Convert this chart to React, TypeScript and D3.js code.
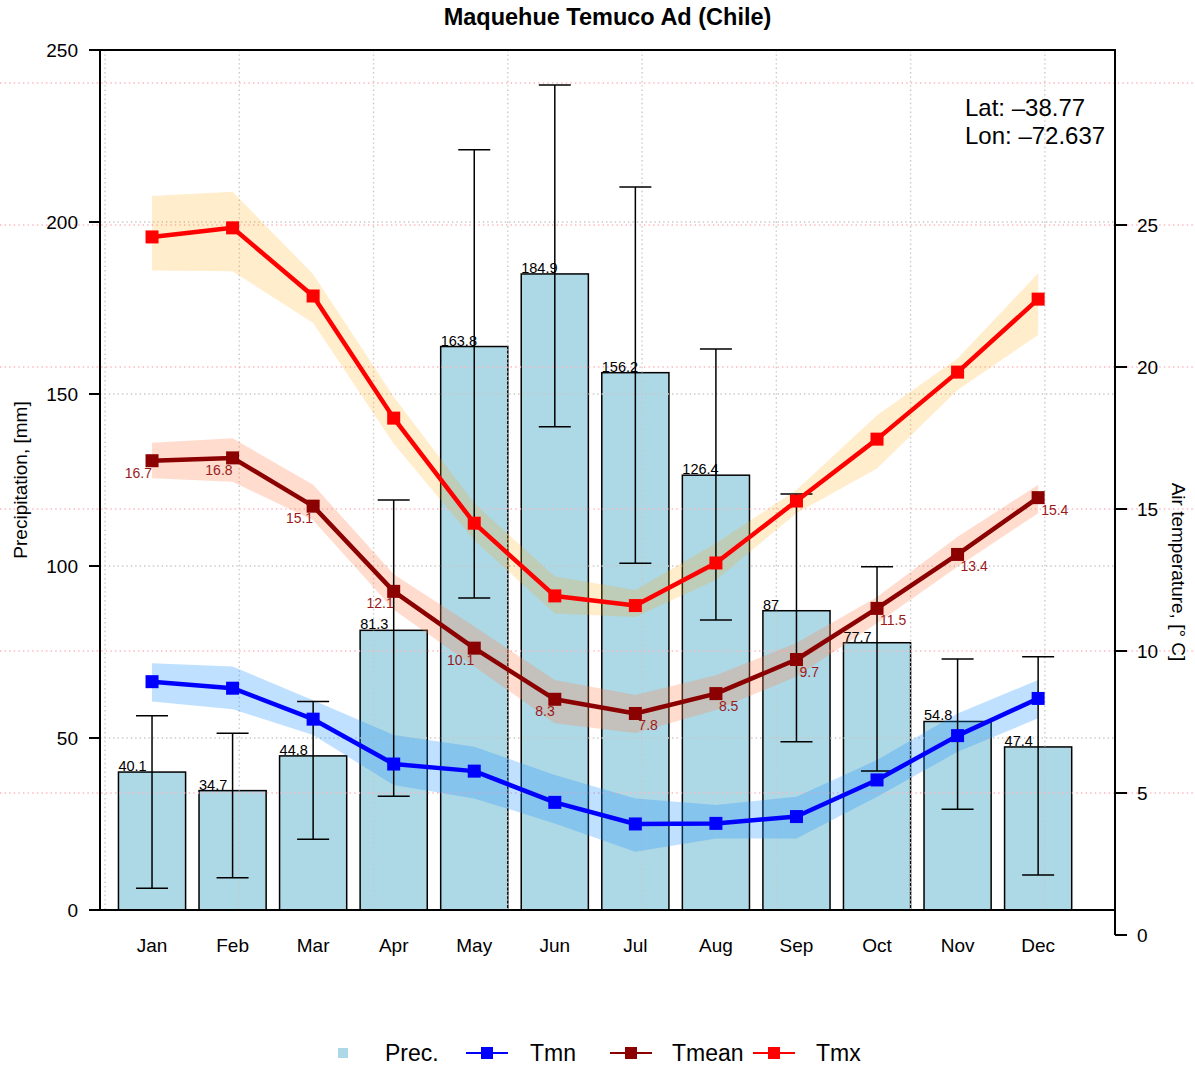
import React from "react";
import * as d3 from "d3";

const months = ["Jan","Feb","Mar","Apr","May","Jun","Jul","Aug","Sep","Oct","Nov","Dec"];
const prec = [40.1, 34.7, 44.8, 81.3, 163.8, 184.9, 156.2, 126.4, 87, 77.7, 54.8, 47.4];
const precLow = [6.3, 9.4, 20.6, 33.1, 90.7, 140.5, 100.8, 84.3, 48.9, 40.4, 29.3, 10.2];
const precHigh = [56.5, 51.4, 60.6, 119.2, 221, 239.8, 210.2, 163.1, 120.9, 99.8, 73, 73.6];

const tmx = [24.58, 24.9, 22.5, 18.2, 14.5, 11.94, 11.6, 13.1, 15.28, 17.46, 19.82, 22.39];
const tmxHi = [26.02, 26.17, 23.27, 18.95, 15.2, 12.62, 12.15, 13.79, 15.67, 18.3, 20.3, 23.3];
const tmxLo = [23.4, 23.37, 21.55, 17.3, 13.9, 11.32, 11.2, 12.5, 14.85, 16.43, 19.19, 21.13];

const tmean = [16.7, 16.8, 15.1, 12.1, 10.1, 8.3, 7.8, 8.5, 9.7, 11.5, 13.4, 15.4];
const tmeanHi = [17.33, 17.49, 15.85, 12.7, 10.86, 8.98, 8.45, 9.15, 10.28, 11.9, 14.02, 15.85];
const tmeanLo = [16.08, 15.96, 14.6, 11.45, 9.45, 7.46, 7.11, 7.92, 9.1, 10.98, 12.97, 14.85];

const tmn = [8.92, 8.69, 7.6, 6.02, 5.77, 4.67, 3.91, 3.93, 4.17, 5.46, 7.02, 8.33];
const tmnHi = [9.57, 9.45, 8.27, 7.04, 6.63, 5.63, 4.81, 4.58, 4.87, 6.16, 7.8, 8.98];
const tmnLo = [8.22, 7.95, 7.04, 5.28, 4.81, 3.93, 2.93, 3.4, 3.4, 4.87, 6.45, 7.63];

const precTicks = [0, 50, 100, 150, 200, 250];
const tempTicks = [0, 5, 10, 15, 20, 25];
const tempGrid = [5, 10, 15, 20, 25, 30];
const xGrid = [0, 2, 4, 6, 8, 10, 12, 14];

const FONT = "Liberation Sans, Arial, Helvetica, sans-serif";
const W = 1195, H = 1069;
const L = 100, R = 1115, T = 50, B = 910;

export default function App() {
  const x = d3.scaleLinear().domain([-0.075, 15.045]).range([L, R]);
  const yP = d3.scaleLinear().domain([0, 250]).range([B, T]);
  const yT = d3.scaleLinear().domain([0, 30]).range([935, 83]);
  const mid = months.map((_, i) => 0.7 + 1.2 * i);

  const line = (vals: number[]) =>
    d3.line<number>().x((_, i) => x(mid[i])).y((v) => yT(v))(vals) || "";
  const area = (lo: number[], hi: number[]) =>
    d3.area<number>().x((_, i) => x(mid[i])).y0((_, i) => yT(lo[i])).y1((_, i) => yT(hi[i]))(lo) || "";

  const series = [
    { vals: tmx, lo: tmxLo, hi: tmxHi, color: "#FF0000", band: "rgba(255,165,0,0.2)" },
    { vals: tmean, lo: tmeanLo, hi: tmeanHi, color: "#8B0000", band: "rgba(255,130,80,0.28)" },
    { vals: tmn, lo: tmnLo, hi: tmnHi, color: "#0000FF", band: "rgba(30,144,255,0.28)" },
  ];
  const ms = 13;

  return (
    <svg width={W} height={H} style={{ position: "absolute", left: 0, top: 0, background: "#fff" }} fontFamily={FONT}>
      <rect x={0} y={0} width={W} height={H} fill="#fff" />
      {/* bars */}
      {prec.map((v, i) => (
        <rect key={"b" + i} x={x(mid[i] - 0.5)} y={yP(v)} width={x(mid[i] + 0.5) - x(mid[i] - 0.5)} height={yP(0) - yP(v)}
          fill="#ADD8E6" stroke="#000" strokeWidth={1.5} />
      ))}
      {/* grid */}
      {xGrid.map((g) => (
        <line key={"gx" + g} x1={x(g)} x2={x(g)} y1={T} y2={B} stroke="#C8C8C8" strokeWidth={1.4} strokeDasharray="1.4,3" />
      ))}
      {precTicks.slice(1, 5).map((g) => (
        <line key={"gy" + g} x1={L} x2={R} y1={yP(g)} y2={yP(g)} stroke="#C8C8C8" strokeWidth={1.4} strokeDasharray="1.4,3" />
      ))}
      {tempGrid.map((g) => (
        <line key={"gt" + g} x1={0} x2={W} y1={yT(g)} y2={yT(g)} stroke="#FFB6C1" strokeWidth={1.4} strokeDasharray="1.4,3.2" />
      ))}
      {/* bands */}
      {series.map((s, k) => (
        <path key={"band" + k} d={area(s.lo, s.hi)} fill={s.band} stroke="none" />
      ))}
      {/* error bars */}
      {prec.map((_, i) => (
        <g key={"e" + i} stroke="#000" strokeWidth={1.5}>
          <line x1={x(mid[i])} x2={x(mid[i])} y1={yP(precLow[i])} y2={yP(precHigh[i])} />
          <line x1={x(mid[i]) - 16} x2={x(mid[i]) + 16} y1={yP(precLow[i])} y2={yP(precLow[i])} />
          <line x1={x(mid[i]) - 16} x2={x(mid[i]) + 16} y1={yP(precHigh[i])} y2={yP(precHigh[i])} />
        </g>
      ))}
      {/* bar labels */}
      {prec.map((v, i) => (
        <text key={"bl" + i} x={x(mid[i] - 0.5)} y={yP(v) - 1} fontSize={14.5} fill="#000">{v}</text>
      ))}
      {/* lines */}
      {series.map((s, k) => (
        <g key={"s" + k}>
          <path d={line(s.vals)} fill="none" stroke={s.color} strokeWidth={4.5} strokeLinejoin="round" />
          {s.vals.map((v, i) => (
            <rect key={i} x={x(mid[i]) - ms / 2} y={yT(v) - ms / 2} width={ms} height={ms} fill={s.color} />
          ))}
        </g>
      ))}
      {/* tmean labels */}
      {tmean.map((v, i) => (
        <text key={"tl" + i} x={i < 6 ? x(mid[i]) : x(mid[i]) + 3} y={yT(v) + 17} fontSize={14} fill="#9B1B1B"
          textAnchor={i < 6 ? "end" : "start"}>{v}</text>
      ))}
      {/* frame */}
      <path d={`M${L},${B} L${L},${T} L${R},${T} L${R},${935}`} fill="none" stroke="#000" strokeWidth={2} />
      <line x1={L} x2={R} y1={B} y2={B} stroke="#000" strokeWidth={2} />
      {/* left axis */}
      {precTicks.map((t) => (
        <g key={"lt" + t}>
          <line x1={L - 11} x2={L} y1={yP(t)} y2={yP(t)} stroke="#000" strokeWidth={2} />
          <text x={78} y={yP(t) + 7} fontSize={19} textAnchor="end">{t}</text>
        </g>
      ))}
      {/* right axis */}
      {tempTicks.map((t) => (
        <g key={"rt" + t}>
          <line x1={R} x2={R + 12} y1={yT(t)} y2={yT(t)} stroke="#000" strokeWidth={2} />
          <text x={1137} y={yT(t) + 7} fontSize={19}>{t}</text>
        </g>
      ))}
      {/* month labels */}
      {months.map((m, i) => (
        <text key={m} x={x(mid[i])} y={952} fontSize={19} textAnchor="middle">{m}</text>
      ))}
      {/* titles */}
      <text x={(L + R) / 2} y={25} fontSize={23.5} fontWeight="bold" textAnchor="middle">Maquehue Temuco Ad (Chile)</text>
      <text transform={`translate(27,480) rotate(-90)`} fontSize={19} textAnchor="middle">Precipitation, [mm]</text>
      <text transform={`translate(1172,572) rotate(90)`} fontSize={19} textAnchor="middle">Air temperature, [° C]</text>
      <text x={965} y={116} fontSize={24}>Lat: –38.77</text>
      <text x={965} y={144} fontSize={24}>Lon: –72.637</text>
      {/* legend */}
      <g>
        <rect x={338} y={1048} width={10} height={10} fill="#ADD8E6" />
        <text x={385} y={1061} fontSize={23}>Prec.</text>
        <line x1={466} x2={508} y1={1053} y2={1053} stroke="#0000FF" strokeWidth={2} />
        <rect x={481} y={1047} width={12} height={12} fill="#0000FF" />
        <text x={530} y={1061} fontSize={23}>Tmn</text>
        <line x1={610} x2={652} y1={1053} y2={1053} stroke="#8B0000" strokeWidth={2} />
        <rect x={625} y={1047} width={12} height={12} fill="#8B0000" />
        <text x={672} y={1061} fontSize={23}>Tmean</text>
        <line x1={753} x2={795} y1={1053} y2={1053} stroke="#FF0000" strokeWidth={2} />
        <rect x={768} y={1047} width={12} height={12} fill="#FF0000" />
        <text x={816} y={1061} fontSize={23}>Tmx</text>
      </g>
    </svg>
  );
}
